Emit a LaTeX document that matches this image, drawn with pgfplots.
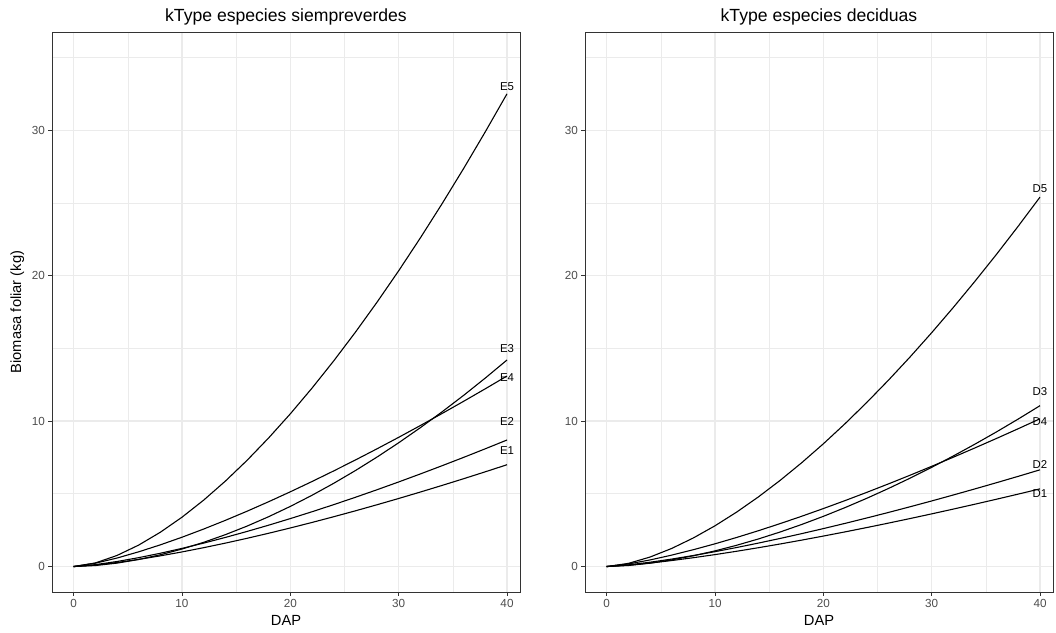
\documentclass[border=0pt]{standalone}
\usepackage{fontspec}
\setmainfont{Liberation Sans}
\usepackage{pgfplots}
\usepackage{pgfplotstable}
\pgfplotsset{compat=1.18}
\definecolor{grey20}{HTML}{333333}
\definecolor{grey30}{HTML}{4D4D4D}
\definecolor{grey92}{HTML}{EBEBEB}

\pgfplotstableread{
x E1 E2 E3 E4 E5
0 0 0 0 0 0
2 0.1056 0.1312 0.0686 0.2295 0.2461
4 0.2787 0.3464 0.2357 0.5850 0.7619
6 0.4917 0.6111 0.4850 1.0115 1.4754
8 0.7354 0.9140 0.8094 1.4920 2.3583
10 1.0051 1.2492 1.2040 2.0158 3.3924
12 1.2973 1.6124 1.6655 2.5786 4.5665
14 1.6100 2.0009 2.1916 3.1754 5.8711
16 1.9408 2.4121 2.7794 3.8023 7.2982
18 2.2887 2.8446 3.4279 4.4574 8.8431
20 2.6528 3.2970 4.1352 5.1394 10.5007
22 3.0314 3.7675 4.8995 5.8452 12.2661
24 3.4240 4.2555 5.7204 6.5732 14.1349
26 3.8298 4.7599 6.5959 7.3232 16.1036
28 4.2483 5.2800 7.5258 8.0940 18.1712
30 4.6791 5.8155 8.5091 8.8836 20.3330
32 5.1223 6.3663 9.5462 9.6933 22.5908
34 5.5756 6.9297 10.6328 10.5193 24.9366
36 6.0395 7.5062 11.7711 11.3624 27.3698
38 6.5150 8.0972 12.9609 12.2230 29.8935
40 7.0 8.7 14.2 13.1 32.5
}\evergreen

\pgfplotstableread{
x D1 D2 D3 D4 D5
0 0 0 0 0 0
2 0.0936 0.1165 0.0721 0.1780 0.2168
4 0.2385 0.2970 0.2311 0.4537 0.6529
6 0.4123 0.5134 0.4567 0.7845 1.2440
8 0.6082 0.7574 0.7405 1.1571 1.9657
10 0.8217 1.0233 1.0772 1.5634 2.8026
12 1.0511 1.3090 1.4632 1.9999 3.7447
14 1.2944 1.6120 1.8958 2.4628 4.7853
16 1.5499 1.9302 2.3725 2.9489 5.9171
18 1.8170 2.2627 2.8917 3.4570 7.1360
20 2.0950 2.6089 3.4519 3.9860 8.4380
22 2.3827 2.9672 4.0513 4.5334 9.8183
24 2.6795 3.3368 4.6891 5.0980 11.2745
26 2.9852 3.7175 5.3636 5.6796 12.8039
28 3.2994 4.1088 6.0741 6.2775 14.4046
30 3.6213 4.5096 6.8212 6.8899 16.0763
32 3.9513 4.9207 7.6029 7.5179 17.8151
34 4.2880 5.3400 8.4177 8.1585 19.6161
36 4.6317 5.7679 9.2649 8.8124 21.4806
38 4.9825 6.2048 10.1466 9.4798 23.4097
40 5.34 6.65 11.06 10.16 25.4
}\deciduous

\tikzset{lbl/.style={font=\fontsize{11.4}{12}\selectfont, text=black}}
\pgfplotsset{
  curve/.style={black, line width=1.1pt, mark=none},
  panel/.style={
    scale only axis, width=468pt, height=560pt,
    xmin=-2, xmax=41.2, ymin=-1.75, ymax=36.75,
    xtick={0,10,20,30,40}, ytick={0,10,20,30},
    minor xtick={5,15,25,35}, minor ytick={5,15,25,35},
    grid=both,
    major grid style={grey92, line width=1.3pt},
    minor grid style={grey92, line width=0.65pt},
    axis line style={grey20, line width=0.8pt},
    tick pos=left, tick align=outside,
    major tick length=3.7pt, minor tick length=0pt,
    tick style={grey20, line width=0.8pt},
    /pgf/number format/assume math mode=true,
    tick label style={font=\fontsize{11.7}{13}\selectfont, text=grey30},
    every axis title shift=0pt,
    title style={at={(axis description cs:0.5,1.0196)}, anchor=base, font=\fontsize{17.6}{20}\selectfont},
    xlabel style={at={(axis description cs:0.5,-0.0607)}, anchor=base, font=\fontsize{14.7}{16}\selectfont},
    ylabel style={at={(axis description cs:-0.0662,0.5)}, anchor=base, font=\fontsize{14.7}{16}\selectfont},
    clip=false,
  },
}

\begin{document}
\begin{tikzpicture}
\useasboundingbox (-52pt,-40pt) rectangle (1004pt,592pt);
\begin{axis}[panel, at={(0pt,0pt)}, anchor=south west,
  title={kType especies siempreverdes}, xlabel={DAP}, ylabel={Biomasa foliar (kg)}]
  \addplot[curve] table[x=x, y=E1] {\evergreen};
  \addplot[curve] table[x=x, y=E2] {\evergreen};
  \addplot[curve] table[x=x, y=E3] {\evergreen};
  \addplot[curve] table[x=x, y=E4] {\evergreen};
  \addplot[curve] table[x=x, y=E5] {\evergreen};
  \node[lbl] at (axis cs:40,33.0) {E5};
  \node[lbl] at (axis cs:40,15.0) {E3};
  \node[lbl] at (axis cs:40,13.0) {E4};
  \node[lbl] at (axis cs:40,10.0) {E2};
  \node[lbl] at (axis cs:40,8.0) {E1};
\end{axis}
\begin{axis}[panel, at={(533pt,0pt)}, anchor=south west,
  title={kType especies deciduas}, xlabel={DAP}]
  \addplot[curve] table[x=x, y=D1] {\deciduous};
  \addplot[curve] table[x=x, y=D2] {\deciduous};
  \addplot[curve] table[x=x, y=D3] {\deciduous};
  \addplot[curve] table[x=x, y=D4] {\deciduous};
  \addplot[curve] table[x=x, y=D5] {\deciduous};
  \node[lbl] at (axis cs:40,26.0) {D5};
  \node[lbl] at (axis cs:40,12.0) {D3};
  \node[lbl] at (axis cs:40,10.0) {D4};
  \node[lbl] at (axis cs:40,7.0) {D2};
  \node[lbl] at (axis cs:40,5.0) {D1};
\end{axis}
\end{tikzpicture}
\end{document}
